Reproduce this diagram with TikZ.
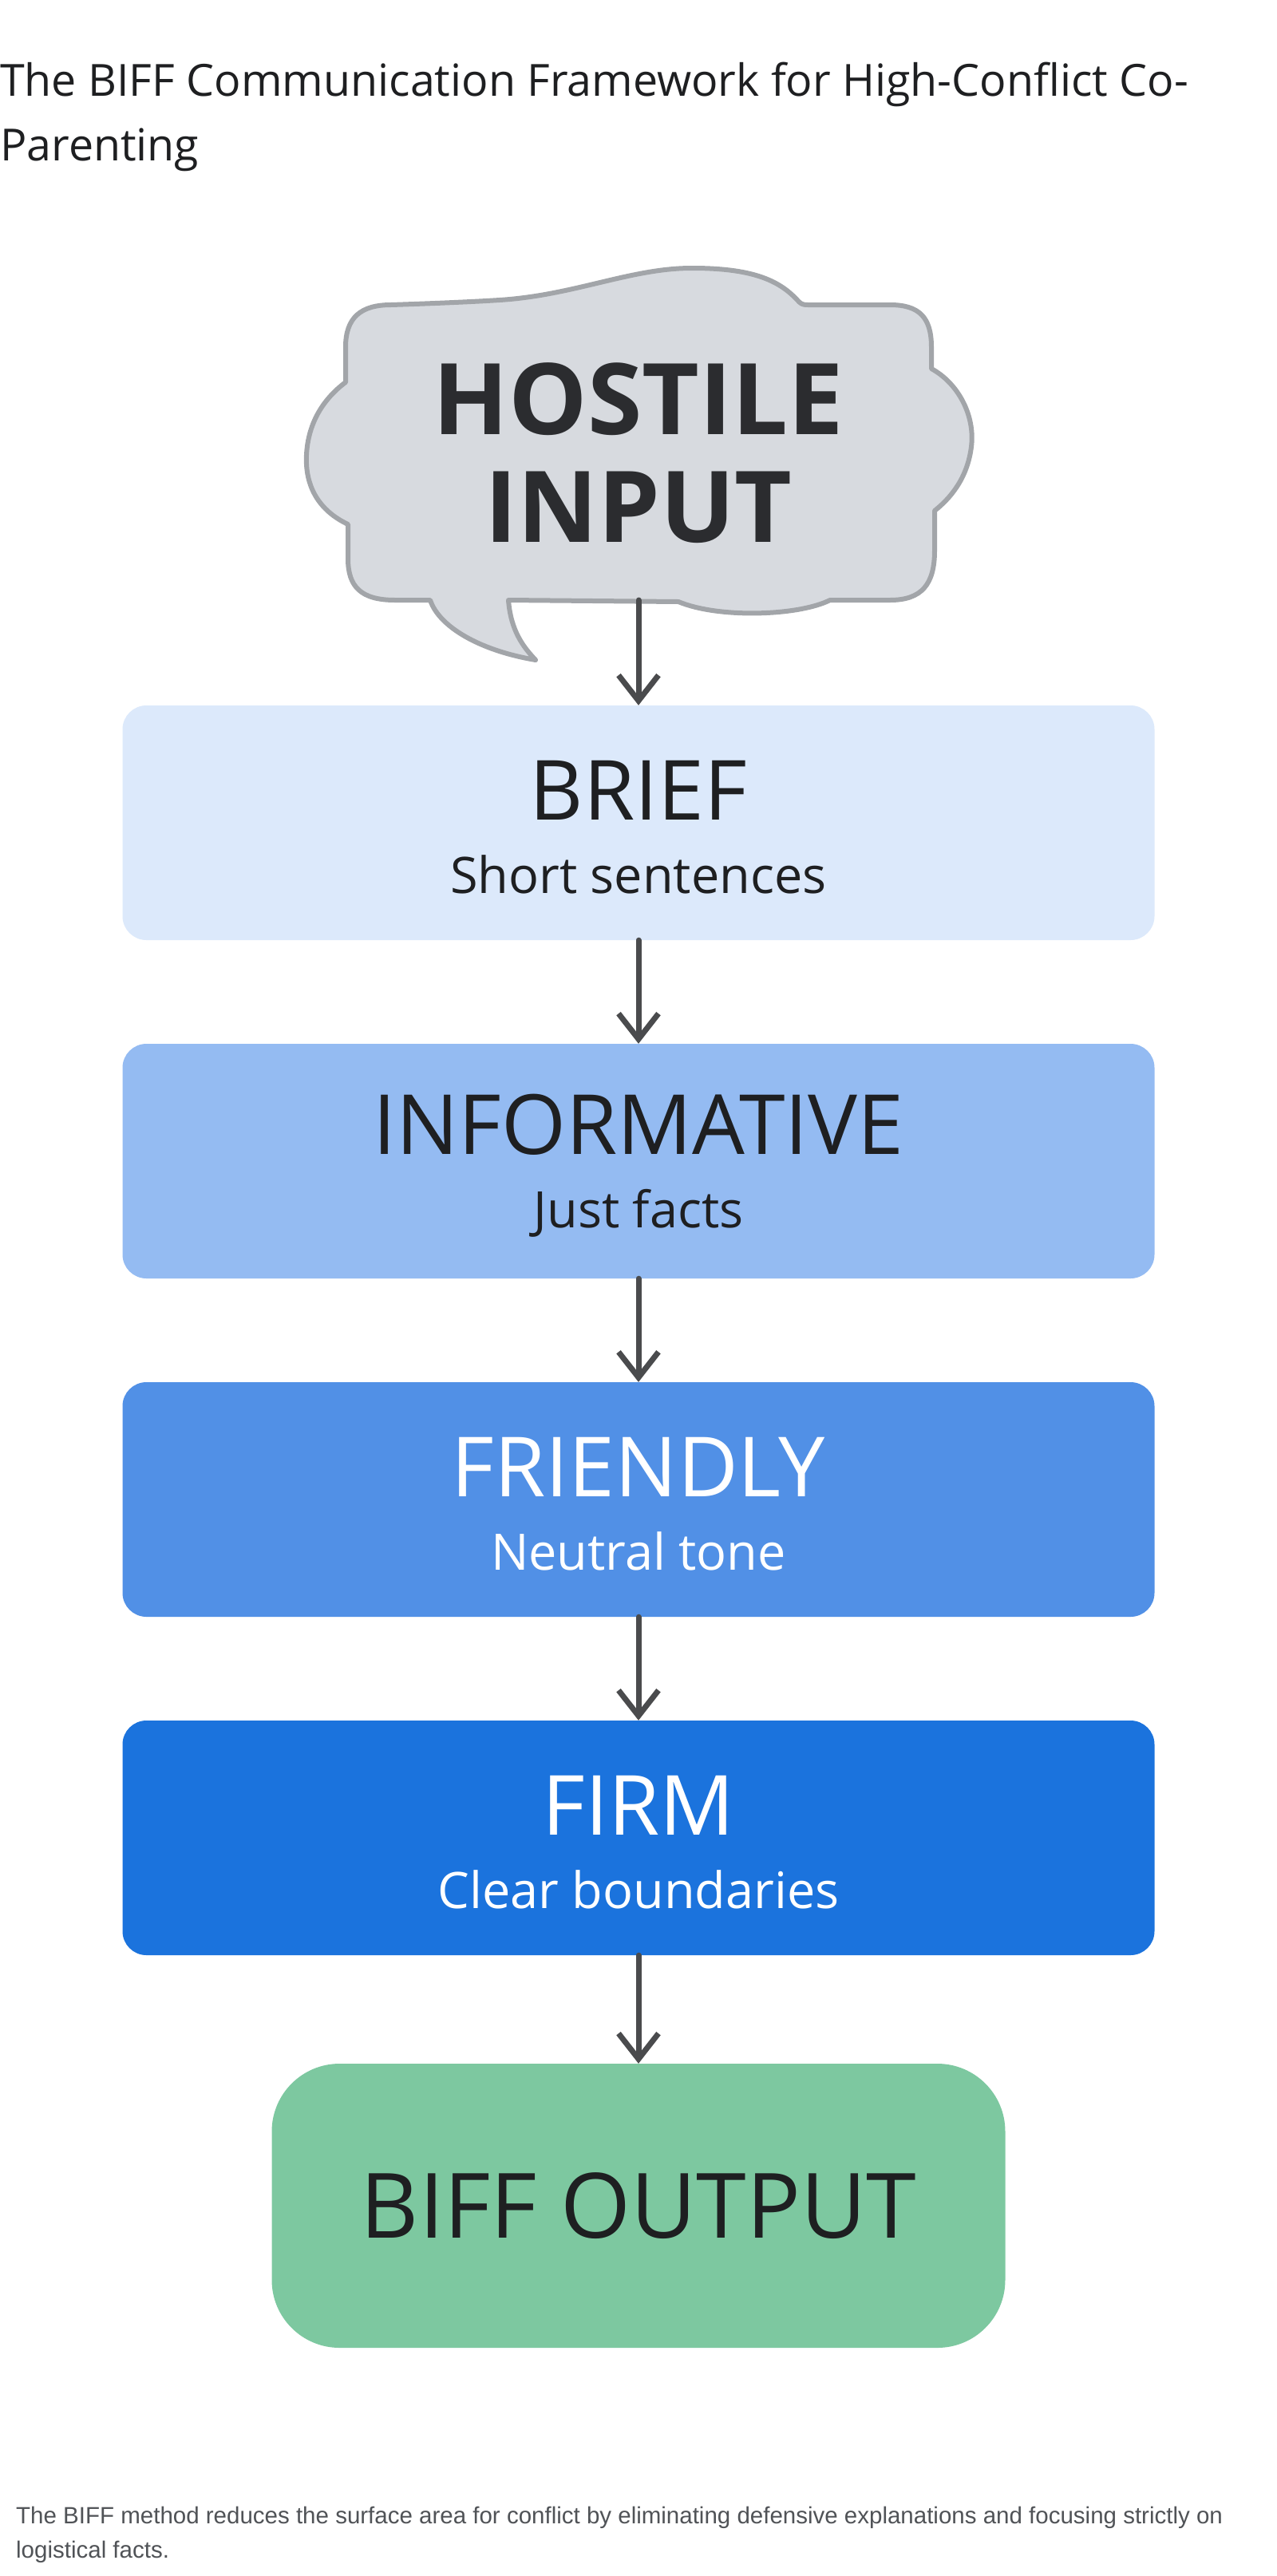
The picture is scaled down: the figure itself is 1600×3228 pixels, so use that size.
\documentclass[tikz,border=0pt]{standalone}
\usepackage{fontspec}
\setmainfont{Open Sans}
\newfontfamily\notefont{Liberation Sans}
\usetikzlibrary{arrows.meta}

\definecolor{briefblue}{HTML}{DCE9FB}
\definecolor{infoblue}{HTML}{94BBF2}
\definecolor{friendblue}{HTML}{5190E6}
\definecolor{firmblue}{HTML}{1B73DD}
\definecolor{outgreen}{HTML}{7DC8A0}
\definecolor{cloudfill}{HTML}{D7DADF}
\definecolor{cloudline}{HTML}{A2A5A9}
\definecolor{arrowgray}{HTML}{4A4B4D}
\definecolor{inkdark}{HTML}{1E1F21}
\definecolor{notegray}{HTML}{505357}

\newcommand{\stagelabel}[2]{{\fontsize{104}{92}\selectfont\rule{0pt}{86pt}#1}\\{\fontsize{63}{92}\selectfont #2}}

\begin{document}
\begin{tikzpicture}[x=1pt, y=-1pt, >={Straight Barb[length=32pt,width=50pt]},
		flow/.style={->, line width=7pt, draw=arrowgray, line cap=round, line join=round},
		stage/.style={rounded corners=30pt, minimum width=1293pt, minimum height=294pt,
			inner sep=0pt, align=center, text=inkdark, font=\fontsize{63}{92}\selectfont}]
			\fill[white] (0,0) rectangle (1600,3228);
			\useasboundingbox (0,0) rectangle (1600,3228);
			
			% ========== title ==========
			\node[anchor=base west, align=left, inner sep=0pt, text=inkdark,
				font=\fontsize{55.5}{81}\selectfont] (title) at (0,201)
				{The BIFF Communication Framework for High-Conflict Co-\\Parenting};
			
			% ========== speech cloud ==========
			\draw[line width=6pt, draw=cloudline, fill=cloudfill, line join=round]
				(490,382) .. controls (550,380) and (595,378) .. (626,376)
				.. controls (720,370) and (790,336) .. (867,336)
				.. controls (940,336) and (975,350) .. (999,376)
				.. controls (1003,380) and (1004,382) .. (1012,382)
				-- (1115,382) .. controls (1152,382) and (1167,398) .. (1167,435)
				-- (1167,462) .. controls (1200,480) and (1222,520) .. (1217,560)
				.. controls (1212,600) and (1190,625) .. (1171,640)
				-- (1171,690) .. controls (1171,732) and (1155,752) .. (1115,752)
				-- (1040,752) .. controls (1000,772) and (900,775) .. (850,754)
				-- (637,752) .. controls (640,790) and (655,810) .. (671,827)
				.. controls (600,815) and (550,785) .. (539,752)
				-- (495,752) .. controls (452,752) and (436,735) .. (436,700)
				-- (436,657) .. controls (400,640) and (382,610) .. (384,570)
				.. controls (386,530) and (405,500) .. (433,479)
				-- (433,435) .. controls (433,398) and (452,382) .. (490,382) -- cycle;
			\node[align=center, inner sep=0pt, text=inkdark!90!cloudline,
				font=\bfseries\fontsize{124}{135}\selectfont] (hostile) at (800,568) {HOSTILE\\INPUT};
			\coordinate (cloudout) at (800,752);
			
			% ========== BIFF stages ==========
			\node[stage, fill=briefblue] (brief) at (800,1031) {\stagelabel{BRIEF}{Short sentences}};
			\node[stage, fill=infoblue] (inform) at (800,1455) {\stagelabel{INFORMATIVE}{Just facts}};
			\node[stage, fill=friendblue, text=white] (friendly) at (800,1879) {\stagelabel{FRIENDLY}{Neutral tone}};
			\node[stage, fill=firmblue, text=white] (firm) at (800,2303) {\stagelabel{FIRM}{Clear boundaries}};
			\node[rounded corners=85pt, minimum width=919pt, minimum height=356pt, inner sep=0pt,
				fill=outgreen, text=inkdark, font=\fontsize{113}{120}\selectfont] (output) at (800,2764) {BIFF OUTPUT};
			
			\draw[flow] (cloudout) -- (brief.north);
			\draw[flow] (brief.south) -- (inform.north);
			\draw[flow] (inform.south) -- (friendly.north);
			\draw[flow] (friendly.south) -- (firm.north);
			\draw[flow] (firm.south) -- (output.north);
			
			% ========== note ==========
			\node[anchor=base west, align=left, inner sep=0pt, text=notegray,
				font=\notefont\fontsize{29.5}{43}\selectfont] (note) at (20,3205)
				{The BIFF method reduces the surface area for conflict by eliminating defensive explanations and focusing strictly on\\logistical facts.};
		\end{tikzpicture}
\end{document}
